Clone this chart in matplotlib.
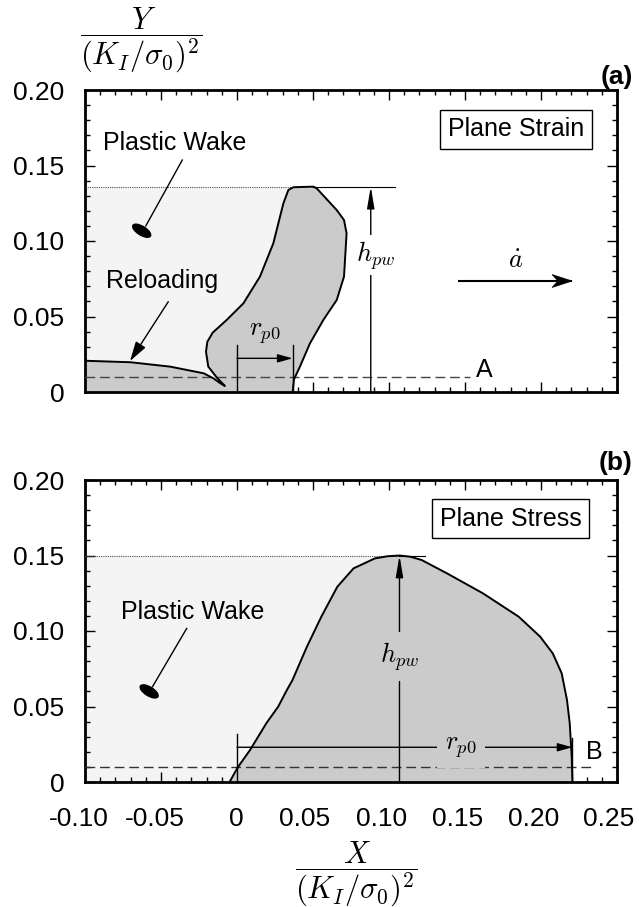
import matplotlib
matplotlib.use("Agg")
import matplotlib.pyplot as plt
from matplotlib.patches import Polygon, Ellipse
from matplotlib.ticker import MultipleLocator, FixedLocator, FixedFormatter
from matplotlib.transforms import ScaledTranslation, IdentityTransform

plt.rcParams['font.family'] = ['Liberation Sans', 'DejaVu Sans']
plt.rcParams['mathtext.fontset'] = 'cm'

# ---------------- data ----------------
x_ticks = [-0.10, -0.05, 0.0, 0.05, 0.10, 0.15, 0.20, 0.25]
x_tick_labels = ["-0.10", "-0.05", "0", "0.05", "0.10", "0.15", "0.20", "0.25"]
y_ticks = [0.0, 0.05, 0.10, 0.15, 0.20]
y_tick_labels = ["0", "0.05", "0.10", "0.15", "0.20"]

# (a) plane strain: reloading strip upper edge (from the left edge to the tip)
reload_x = [-0.100, -0.070, -0.044, -0.022, -0.0156, -0.011, -0.008]
reload_y = [0.0207, 0.0197, 0.0168, 0.0124, 0.0091, 0.0058, 0.0040]
# (a) active plastic zone outline (tip -> up the left side -> peak -> down to the axis)
zone_a_x = [-0.008, -0.0134, -0.0189, -0.0204, -0.0195, -0.0160, -0.0068, 0.0042,
            0.0151, 0.0239, 0.0305, 0.0338, 0.0371, 0.0502, 0.0524, 0.0656, 0.0704,
            0.0721, 0.0704, 0.0656, 0.0568, 0.0480, 0.0414, 0.0375, 0.0366]
zone_a_y = [0.0040, 0.0097, 0.0168, 0.0267, 0.0333, 0.0393, 0.0477, 0.0587,
            0.0764, 0.0985, 0.1249, 0.1338, 0.1356, 0.1360, 0.1349, 0.1205, 0.1139,
            0.1051, 0.0764, 0.0609, 0.0477, 0.0322, 0.0168, 0.0084, 0.0]
hpw_a = 0.136
rp0_a = 0.0366
hpw_a_x = 0.088

# (b) plane stress plastic zone outline
zone_b_x = [-0.0049, 0.0005, 0.0086, 0.0193, 0.0271, 0.0328, 0.0365, 0.0460, 0.0555,
            0.0660, 0.0767, 0.0908, 0.0990, 0.1069, 0.1140, 0.1215, 0.1381, 0.1617,
            0.1853, 0.1995, 0.2078, 0.2136, 0.2171, 0.2189, 0.2202, 0.2207]
zone_b_y = [0.0, 0.0097, 0.0212, 0.0389, 0.0499, 0.0609, 0.0675, 0.0896, 0.1095,
            0.1293, 0.1415, 0.1481, 0.1495, 0.1500, 0.1492, 0.1470, 0.1382, 0.1250,
            0.1095, 0.0962, 0.0851, 0.0720, 0.0543, 0.0389, 0.0168, 0.0]
hpw_b = 0.150
rp0_b = 0.2207
hpw_b_x = 0.1069

ref_line_y = 0.01   # reference lines A and B

LIGHT = '#f4f4f4'
DARK = '#cbcbcb'

W, H = 639, 907
fig = plt.figure(figsize=(W / 100, H / 100), dpi=100)


def px_box(x0, y0, x1, y1):
    return [x0 / W, 1 - y1 / H, (x1 - x0) / W, (y1 - y0) / H]


ax_a = fig.add_axes(px_box(85, 90, 617, 392))
ax_b = fig.add_axes(px_box(85, 480, 617, 782))

# small horizontal nudges of the x tick labels, in pixels
x_label_shift = [-6, -6, -1, -8, -7, -7, -7, -8]


def style_axes(ax, show_x_labels):
    ax.set_xlim(-0.10, 0.25)
    ax.set_ylim(0.0, 0.20)
    ax.xaxis.set_major_locator(FixedLocator(x_ticks))
    ax.yaxis.set_major_locator(FixedLocator(y_ticks))
    ax.xaxis.set_minor_locator(MultipleLocator(0.01))
    ax.yaxis.set_minor_locator(MultipleLocator(0.01))
    ax.yaxis.set_major_formatter(FixedFormatter(y_tick_labels))
    if show_x_labels:
        ax.xaxis.set_major_formatter(FixedFormatter(x_tick_labels))
    else:
        ax.tick_params(axis='x', labelbottom=False)
    ax.tick_params(which='both', direction='in', top=True, right=True, width=1.0)
    ax.tick_params(which='major', length=7, labelsize=19)
    ax.tick_params(which='minor', length=3.5)
    ax.tick_params(axis='y', pad=15)
    ax.tick_params(axis='x', pad=18)
    for s in ax.spines.values():
        s.set_linewidth(2.0)
    if show_x_labels:
        for lab, dx in zip(ax.get_xticklabels(), x_label_shift):
            lab.set_transform(lab.get_transform() +
                              ScaledTranslation(dx / 100, 0, fig.dpi_scale_trans))


def arrow(ax, start, end, hl, hw, lw=1.0):
    ax.annotate('', xy=end, xytext=start,
                arrowprops=dict(arrowstyle='-|>,head_length=%g,head_width=%g' % (hl, hw),
                                lw=lw, color='k', shrinkA=0, shrinkB=0), zorder=6)


def stealth_arrow(ax, start, end, lw=1.5, length=20, half_width=6.5, notch=14):
    """Horizontal arrow with a swept-back head, head size given in pixels."""
    tip = ax.transData.transform(end)
    ax.plot([start[0], end[0]], [start[1], end[1]], color='k', lw=lw, zorder=6,
            solid_capstyle='butt')
    tx, ty = tip
    head = [(tx, ty), (tx - length, ty + half_width), (tx - notch, ty),
            (tx - length, ty - half_width)]
    ax.add_patch(Polygon(head, closed=True, fc='k', ec='k', lw=0.5,
                         transform=IdentityTransform(), zorder=7))


# ---------------- (a) plane strain ----------------
ax = ax_a
style_axes(ax, False)
ax.add_patch(Polygon([(-0.10, 0), (-0.10, hpw_a), (0.037, hpw_a), (0.037, 0)],
                     closed=True, fc=LIGHT, ec='none', zorder=1))
outline_a = [(-0.10, 0.0)] + list(zip(reload_x, reload_y)) + list(zip(zone_a_x, zone_a_y))
ax.add_patch(Polygon(outline_a, closed=True, fc=DARK, ec='none', zorder=2))
ax.plot(reload_x + zone_a_x, reload_y + zone_a_y, color='k', lw=1.4, zorder=4)
ax.plot([-0.10, 0.036], [hpw_a, hpw_a], color='#555555', lw=0.8, ls=(0, (1, 1)), zorder=3)
ax.plot([0.050, 0.104], [hpw_a, hpw_a], color='k', lw=0.8, zorder=3)
ax.plot([-0.10, 0.153], [ref_line_y, ref_line_y], color='#444444', lw=1.0,
        ls=(0, (7, 3.5)), zorder=3)
ax.text(0.157, 0.0146, 'A', fontsize=18, ha='left', va='center', zorder=6)

# h_pw
arrow(ax, (hpw_a_x, 0.0), (hpw_a_x, hpw_a), 1.3, 0.22)
ax.text(hpw_a_x + 0.003, 0.0907, r'$h_{pw}$', fontsize=19, ha='center', va='center',
        bbox=dict(boxstyle='square,pad=0.15', fc='white', ec='none'), zorder=7)
# r_p0
ax.plot([0.0, 0.0], [0.0, 0.031], color='k', lw=1.0, zorder=5)
ax.plot([rp0_a, rp0_a], [0.0, 0.031], color='k', lw=1.0, zorder=5)
arrow(ax, (0.0, 0.0223), (rp0_a, 0.0223), 0.9, 0.25)
ax.text(rp0_a / 2, 0.0385, r'$r_{p0}$', fontsize=19, ha='center', va='center', zorder=6)
# crack growth direction
stealth_arrow(ax, (0.1454, 0.0735), (0.2204, 0.0735))
ax.text(0.183, 0.087, r'$\dot{a}$', fontsize=19, ha='center', va='center', zorder=6)

ax.text(0.1836, 0.174, 'Plane Strain', fontsize=18, ha='center', va='center',
        bbox=dict(boxstyle='square,pad=0.3', fc='white', ec='k', lw=1.0), zorder=7)
ax.text(-0.041, 0.165, 'Plastic Wake', fontsize=18, ha='center', va='center', zorder=6)
ax.plot([-0.036, -0.0600], [0.1536, 0.1100], color='k', lw=1.0, zorder=5)
ax.add_patch(Ellipse((-0.0627, 0.1068), 0.0135, 0.0058, angle=-32, fc='k', ec='k', zorder=6))
ax.text(-0.049, 0.0735, 'Reloading', fontsize=18, ha='center', va='center', zorder=6)
arrow(ax, (-0.0452, 0.0598), (-0.0704, 0.0205), 1.2, 0.35)

fig.text(633 / W, 1 - 77 / H, '(a)', fontsize=19, fontweight='bold', ha='right', va='center')

# ---------------- (b) plane stress ----------------
ax = ax_b
style_axes(ax, True)
ax.add_patch(Polygon([(-0.10, 0), (-0.10, hpw_b), (hpw_b_x, hpw_b), (hpw_b_x, 0)],
                     closed=True, fc=LIGHT, ec='none', zorder=1))
ax.add_patch(Polygon(list(zip(zone_b_x, zone_b_y)), closed=True, fc=DARK, ec='none', zorder=2))
ax.plot(zone_b_x, zone_b_y, color='k', lw=1.4, zorder=4)
ax.plot([-0.10, hpw_b_x], [hpw_b, hpw_b], color='#555555', lw=0.8, ls=(0, (1, 1)), zorder=3)
ax.plot([hpw_b_x, 0.1237], [hpw_b, hpw_b], color='k', lw=0.8, zorder=3)
ax.plot([-0.10, 0.235], [ref_line_y, ref_line_y], color='#333333', lw=1.0,
        ls=(0, (7, 3.5)), zorder=3)
ax.text(0.2349, 0.020, 'B', fontsize=18, ha='center', va='center', zorder=6)

arrow(ax, (hpw_b_x, 0.0), (hpw_b_x, hpw_b), 1.3, 0.22)
ax.text(hpw_b_x, 0.083, r'$h_{pw}$', fontsize=19, ha='center', va='center',
        bbox=dict(boxstyle='square,pad=0.3', fc=DARK, ec='none'), zorder=7)
ax.plot([0.0, 0.0], [0.0, 0.0318], color='k', lw=1.0, zorder=5)
ax.plot([rp0_b, rp0_b], [0.0, 0.029], color='k', lw=1.0, zorder=5)
arrow(ax, (0.0, 0.023), (rp0_b, 0.023), 0.9, 0.25)
ax.text(0.1474, 0.023, r'$r_{p0}$', fontsize=19, ha='center', va='center',
        bbox=dict(boxstyle='square,pad=0.3', fc=DARK, ec='none'), zorder=7)

ax.text(0.180, 0.1742, 'Plane Stress', fontsize=18, ha='center', va='center',
        bbox=dict(boxstyle='square,pad=0.3', fc='white', ec='k', lw=1.0), zorder=7)
ax.text(-0.029, 0.1126, 'Plastic Wake', fontsize=18, ha='center', va='center', zorder=6)
ax.plot([-0.0331, -0.0556], [0.1017, 0.0631], color='k', lw=1.0, zorder=5)
ax.add_patch(Ellipse((-0.0578, 0.0600), 0.0135, 0.0058, angle=-32, fc='k', ec='k', zorder=6))

fig.text(633 / W, 1 - 463 / H, '(b)', fontsize=19, fontweight='bold', ha='right', va='center')

# axis titles as stacked fractions
fig.text(141 / W, 1 - 40 / H, r'$\dfrac{Y}{(K_I/\sigma_0)^2}$', fontsize=22,
         ha='center', va='center')
fig.text(356 / W, 1 - 874 / H, r'$\dfrac{X}{(K_I/\sigma_0)^2}$', fontsize=22,
         ha='center', va='center')

fig.savefig('out.png', dpi=100)
